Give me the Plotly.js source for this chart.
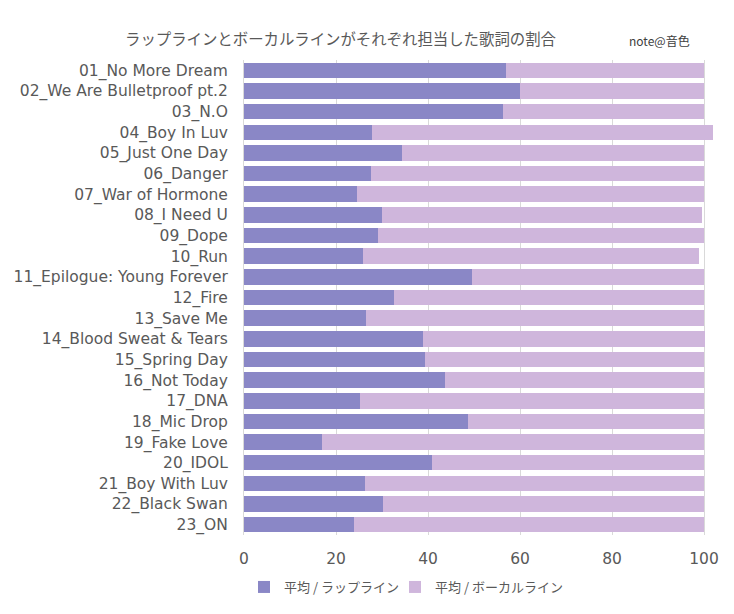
<!DOCTYPE html>
<html>
<head>
<meta charset="utf-8">
<script src="https://cdn.plot.ly/plotly-3.0.1.min.js"></script>
<style>html,body{margin:0;padding:0;background:#fff;}#chart{width:734px;height:614px;}</style>
</head>
<body>
<div id="chart"></div>
<script>
const songs = [
  "01_No More Dream","02_We Are Bulletproof pt.2","03_N.O","04_Boy In Luv","05_Just One Day",
  "06_Danger","07_War of Hormone","08_I Need U","09_Dope","10_Run",
  "11_Epilogue: Young Forever","12_Fire","13_Save Me","14_Blood Sweat & Tears","15_Spring Day",
  "16_Not Today","17_DNA","18_Mic Drop","19_Fake Love","20_IDOL",
  "21_Boy With Luv","22_Black Swan","23_ON"
];
const rapLine = [57.0,59.9,56.2,27.9,34.4,27.5,24.6,30.1,29.2,25.9,49.6,32.5,26.6,39.0,39.4,43.8,25.3,48.8,17.0,40.9,26.4,30.3,24.0];
const vocalLine = [43.0,40.1,43.8,74.1,65.6,72.4,75.4,69.5,70.8,73.1,50.4,67.4,73.4,61.3,60.6,56.2,74.7,51.2,83.0,59.1,73.6,69.7,76.0];
const xTicks = [0,20,40,60,80,100];
const seriesNames = ["平均 / ラップライン","平均 / ボーカルライン"];
const chartTitle = "ラップラインとボーカルラインがそれぞれ担当した歌詞の割合";
const credit = "note@音色";

const FONT = "DejaVu Sans, Noto Sans CJK JP, sans-serif";
const CJK = "Noto Sans CJK JP, sans-serif";
const traces = [
  {type:'bar', orientation:'h', name:seriesNames[0], y:songs, x:rapLine,
   marker:{color:'#8a87c6'}, hoverinfo:'x+y', legend:'legend'},
  {type:'bar', orientation:'h', name:seriesNames[1], y:songs, x:vocalLine,
   marker:{color:'#cfb6dc'}, hoverinfo:'x+y', legend:'legend2'}
];
const L = 243.7, R = 7.3, T = 60.4, B = 78.7;
const pw = 734 - L - R, ph = 614 - T - B;
const legendBase = {orientation:'h', xref:'container', yref:'container', xanchor:'left',
          y:1-587/614, yanchor:'middle', font:{family:CJK, size:13, color:'#595959'},
          itemwidth:30, bgcolor:'rgba(0,0,0,0)'};
const layout = {
  width:734, height:614,
  barmode:'stack', bargap:0.25,
  margin:{l:L, r:R, t:T, b:B},
  paper_bgcolor:'#fff', plot_bgcolor:'#fff',
  font:{family:FONT, size:15, color:'#595959'},
  title:{text:chartTitle, font:{family:CJK, size:15.4, color:'#595959'},
         x:125/734, xanchor:'left', xref:'container', y:1-40/614, yref:'container', yanchor:'middle'},
  xaxis:{range:[0,105], tickvals:xTicks, showgrid:true, gridcolor:'#d9d9d9', gridwidth:1,
         zeroline:false, showline:false, ticks:'', ticklabelstandoff:12,
         tickfont:{size:15.5, color:'#595959'}, fixedrange:true},
  yaxis:{autorange:'reversed', type:'category', ticks:'', ticklabelstandoff:12,
         showgrid:false, zeroline:false, showline:true, linecolor:'#d9d9d9',
         tickfont:{size:15.5, color:'#595959'}, fixedrange:true},
  showlegend:true,
  legend:Object.assign({}, legendBase, {x:244/734}),
  legend2:Object.assign({}, legendBase, {x:395/734}),
  annotations:[{text:credit, xref:'paper', yref:'paper', x:(627-L)/pw, y:(614-B-41)/ph,
                xanchor:'left', yanchor:'middle', showarrow:false,
                font:{family:CJK, size:12, color:'#404040'}}]
};
Plotly.newPlot('chart', traces, layout, {displayModeBar:false, staticPlot:true});
</script>
</body>
</html>
